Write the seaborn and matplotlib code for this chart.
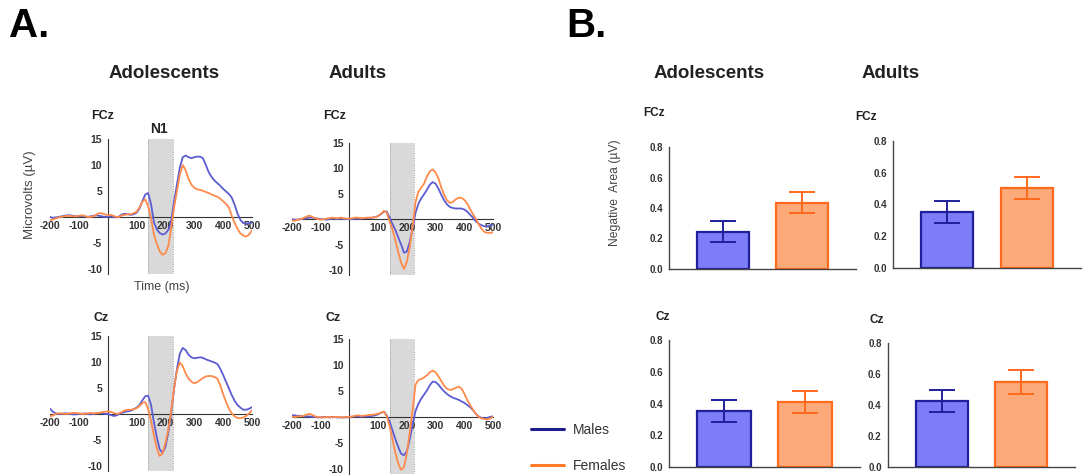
import numpy as np
import pandas as pd
import matplotlib
matplotlib.use("Agg")
import matplotlib.pyplot as plt
from matplotlib.lines import Line2D
import seaborn as sns

sns.set_theme(style="white")
plt.rcParams['font.family'] = ['Liberation Sans', 'DejaVu Sans']
plt.rcParams['axes.unicode_minus'] = False

# ---------------- data ----------------
TIME = np.arange(-200, 510, 10)

ado_fcz_m = [0.0, -0.2, -0.1, 0.0, 0.1, 0.2, 0.3, 0.3, 0.2, 0.1,
             0.1, 0.2, 0.1, 0.0, 0.1, 0.2, 0.3, 0.2, 0.1, 0.0,
             0.0, 0.1, 0.0, -0.1, 0.1, 0.5, 0.6, 0.5, 0.4, 0.5,
             0.8, 1.6, 3.0, 4.3, 4.6, 2.5, -1.0, -2.4, -3.1, -3.4,
             -3.2, -2.5, -0.8, 3.0, 6.3, 9.5, 11.5, 11.8, 11.5, 11.3,
             11.5, 11.6, 11.6, 11.3, 10.0, 8.6, 7.7, 7.0, 6.5, 6.0,
             5.4, 4.9, 4.4, 3.7, 2.3, 0.6, -0.6, -1.2, -1.3, -1.2,
             -1.1]
ado_fcz_f = [-0.6, -0.5, -0.3, -0.1, 0.0, 0.1, 0.2, 0.2, 0.1, 0.1,
             0.2, 0.3, 0.2, 0.0, 0.0, 0.1, 0.4, 0.7, 0.7, 0.5,
             0.3, 0.4, 0.2, 0.0, 0.0, 0.3, 0.4, 0.5, 0.5, 0.7,
             1.0, 1.8, 2.9, 3.4, 2.0, -0.2, -3.4, -5.2, -6.6, -7.3,
             -7.0, -5.6, -2.2, 1.8, 5.0, 8.2, 10.0, 9.0, 7.3, 6.2,
             5.6, 5.3, 5.2, 5.0, 4.8, 4.6, 4.3, 4.1, 3.9, 3.5,
             3.0, 2.5, 1.8, 0.2, -1.2, -2.3, -3.2, -3.6, -3.8, -3.4,
             -2.6]
adu_fcz_m = [0.0, -0.1, -0.1, 0.0, 0.1, 0.2, 0.3, 0.3, 0.2, 0.1,
             0.0, 0.0, -0.1, 0.0, 0.1, 0.1, 0.0, 0.1, 0.0, 0.0,
             0.0, 0.0, 0.1, 0.1, 0.1, 0.2, 0.2, 0.2, 0.3, 0.4,
             0.6, 1.0, 1.5, 1.5, 0.3, -1.0, -2.1, -3.6, -5.0, -6.6,
             -6.4, -4.5, -1.8, 1.2, 3.0, 4.1, 4.9, 5.8, 6.8, 7.3,
             7.0, 6.0, 4.8, 3.7, 2.9, 2.4, 2.2, 2.1, 2.1, 2.1,
             1.9, 1.5, 0.9, 0.3, -0.4, -0.9, -1.2, -1.4, -1.4, -1.2,
             -1.1]
adu_fcz_f = [-0.3, -0.3, -0.1, 0.0, 0.2, 0.5, 0.7, 0.5, 0.2, 0.0,
             -0.1, 0.0, 0.1, 0.2, 0.3, 0.2, 0.2, 0.3, 0.2, 0.1,
             0.1, 0.2, 0.3, 0.3, 0.2, 0.2, 0.3, 0.3, 0.3, 0.4,
             0.6, 1.1, 1.6, 1.3, -0.5, -2.0, -4.2, -6.5, -8.6, -9.8,
             -8.4, -5.5, -1.5, 3.3, 5.4, 6.2, 7.0, 8.4, 9.4, 9.8,
             9.2, 8.0, 6.2, 4.8, 3.7, 3.2, 3.4, 3.9, 4.2, 4.2,
             3.8, 3.1, 2.0, 1.0, 0.1, -1.0, -1.9, -2.5, -2.7, -2.7,
             -2.6]
ado_cz_m = [1.0, 0.4, 0.1, 0.0, 0.0, 0.1, 0.1, 0.0, -0.1, -0.1,
            0.0, 0.0, 0.1, 0.0, -0.1, 0.0, 0.1, 0.2, 0.1, 0.0,
            0.0, -0.2, -0.4, -0.3, 0.0, 0.2, 0.4, 0.5, 0.6, 0.9,
            1.2, 1.7, 2.6, 3.4, 3.5, 1.8, -1.6, -4.5, -6.8, -7.5,
            -6.4, -3.5, 0.2, 4.8, 8.7, 11.6, 12.7, 12.3, 11.4, 10.9,
            10.7, 10.8, 10.9, 10.8, 10.5, 10.3, 10.1, 9.9, 9.6, 8.7,
            7.5, 6.2, 4.9, 3.6, 2.5, 1.7, 1.2, 0.8, 0.8, 1.0,
            1.3]
ado_cz_f = [-0.5, -0.3, 0.0, 0.1, 0.1, 0.0, 0.0, 0.1, 0.2, 0.2,
            0.1, 0.0, 0.0, 0.1, 0.2, 0.1, 0.1, 0.2, 0.3, 0.4,
            0.5, 0.4, 0.2, 0.0, 0.1, 0.4, 0.7, 0.8, 0.8, 0.9,
            1.1, 1.5, 2.1, 2.3, 0.9, -1.3, -4.1, -6.6, -8.1, -7.6,
            -5.6, -3.0, 0.6, 5.0, 8.3, 9.9, 9.2, 7.8, 6.8, 6.2,
            5.9, 6.1, 6.5, 6.9, 7.2, 7.3, 7.3, 7.1, 6.8, 5.5,
            3.8, 2.3, 1.0, 0.1, -0.5, -0.8, -0.8, -0.7, -0.4, 0.1,
            0.7]
adu_cz_m = [0.3, 0.3, 0.2, 0.2, 0.1, 0.1, 0.1, 0.0, 0.0, -0.1,
            -0.1, 0.0, 0.0, -0.1, 0.0, 0.0, -0.1, -0.1, -0.1, -0.1,
            0.0, 0.0, 0.1, 0.1, 0.0, 0.1, 0.1, 0.1, 0.2, 0.3,
            0.5, 0.8, 1.0, 0.3, -0.9, -2.6, -4.3, -5.8, -7.1, -7.4,
            -6.6, -4.3, -1.5, 1.1, 2.5, 3.5, 4.3, 5.1, 6.1, 6.8,
            6.7, 6.2, 5.5, 4.9, 4.4, 4.0, 3.7, 3.5, 3.3, 3.0,
            2.7, 2.3, 1.9, 1.3, 0.6, 0.1, -0.2, -0.3, -0.2, 0.0,
            0.1]
adu_cz_f = [0.0, 0.0, 0.1, 0.1, 0.2, 0.4, 0.6, 0.4, 0.1, 0.0,
            -0.1, -0.1, 0.0, 0.0, -0.1, 0.0, 0.0, -0.1, -0.1, 0.0,
            0.0, 0.1, 0.2, 0.3, 0.2, 0.2, 0.3, 0.4, 0.4, 0.5,
            0.6, 0.8, 1.0, 0.1, -1.8, -4.4, -6.9, -9.0, -10.2, -9.7,
            -7.0, -3.0, 1.3, 6.2, 7.1, 7.3, 7.6, 8.0, 8.6, 8.9,
            8.6, 7.8, 6.9, 6.0, 5.4, 5.2, 5.3, 5.6, 5.8, 5.5,
            4.5, 3.3, 2.3, 1.4, 0.6, 0.0, -0.3, -0.4, -0.5, -0.3,
            0.0]

N1_WINDOW = (140, 225)
ERP_XTICKS = [-200, -100, 100, 200, 300, 400, 500]
ERP_YTICKS = [-10, -5, 5, 10, 15]

GROUPS = ["Males", "Females"]
bar_ado_fcz = [0.245, 0.435]
sem_ado_fcz = [0.07, 0.07]
bar_adu_fcz = [0.355, 0.505]
sem_adu_fcz = [0.07, 0.07]
bar_ado_cz = [0.355, 0.41]
sem_ado_cz = [0.07, 0.07]
bar_adu_cz = [0.425, 0.548]
sem_adu_cz = [0.07, 0.08]
BAR_YTICKS = [0.0, 0.2, 0.4, 0.6, 0.8]

# ---------------- style ----------------
LINE_BLUE = "#5c5cd2"
LINE_ORANGE = "#ff8a4a"
FILL = ["#7d7df7", "#fcaa7a"]
EDGE = ["#20209a", "#ff6a1c"]
LEG = ["#1c1c8e", "#ff7a2a"]
TXT = "#222222"
TICK = "#333333"

W, H = 1084, 475
fig = plt.figure(figsize=(W / 100, H / 100), dpi=100)
fig.patch.set_facecolor("white")


def box(l, r, t, b):
    return [l / W, 1 - b / H, (r - l) / W, (b - t) / H]


def ftext(x, y, s, **kw):
    fig.text(x / W, 1 - y / H, s, ha="center", va="center", **kw)


def erp_panel(rect, males, females):
    ax = fig.add_axes(rect)
    ax.set_facecolor("none")
    ax.axvspan(N1_WINDOW[0], N1_WINDOW[1], color="#d9d9d9", lw=0, zorder=0)
    for xv in N1_WINDOW:
        ax.axvline(xv, color="#9a9a9a", lw=0.7, ls=(0, (1, 1.5)), zorder=0.5)
    df = pd.DataFrame({"t": np.concatenate([TIME, TIME]),
                       "v": np.concatenate([males, females]),
                       "g": ["Males"] * len(TIME) + ["Females"] * len(TIME)})
    sns.lineplot(data=df, x="t", y="v", hue="g", hue_order=GROUPS,
                 palette=[LINE_BLUE, LINE_ORANGE], lw=1.3, legend=False,
                 ax=ax, zorder=3)
    ax.set_xlim(-200, 500)
    ax.set_ylim(-11, 15)
    ax.spines["left"].set_position(("data", 0))
    ax.spines["bottom"].set_position(("data", 0))
    ax.spines["top"].set_visible(False)
    ax.spines["right"].set_visible(False)
    for s in ("left", "bottom"):
        ax.spines[s].set_color("#333333")
        ax.spines[s].set_linewidth(0.8)
        ax.spines[s].set_zorder(2)
    ax.set_xticks(ERP_XTICKS)
    ax.set_yticks(ERP_YTICKS)
    ax.tick_params(axis="both", labelsize=7.5, length=2.5, width=0.8,
                   colors=TICK, pad=1.5, direction="out")
    ax.tick_params(axis="x", length=0, pad=3)
    for lbl in ax.get_xticklabels() + ax.get_yticklabels():
        lbl.set_fontweight("bold")
    ax.set_xlabel("")
    ax.set_ylabel("")
    return ax


def bar_panel(rect, vals, sems):
    ax = fig.add_axes(rect)
    ax.set_facecolor("none")
    df = pd.DataFrame({"g": GROUPS, "v": vals})
    sns.barplot(data=df, x="g", y="v", hue="g", order=GROUPS,
                hue_order=GROUPS, palette=FILL, width=0.66, saturation=1,
                legend=False, ax=ax, zorder=2)
    for patch, ec in zip(ax.patches, EDGE):
        patch.set_edgecolor(ec)
        patch.set_linewidth(1.6)
    for i, (v, e) in enumerate(zip(vals, sems)):
        ax.errorbar([i], [v], yerr=[e], fmt="none", ecolor=EDGE[i],
                    elinewidth=1.4, capsize=9.5, capthick=1.4, zorder=4)
    ax.set_xlim(-0.68, 1.68)
    ax.set_ylim(0, 0.8)
    ax.set_yticks(BAR_YTICKS)
    ax.set_yticklabels([f"{t:.1f}" for t in BAR_YTICKS])
    ax.set_xticks([0, 1])
    ax.set_xticklabels(["", ""])
    ax.spines["top"].set_visible(False)
    ax.spines["right"].set_visible(False)
    for s in ("left", "bottom"):
        ax.spines[s].set_color("#444444")
        ax.spines[s].set_linewidth(1.0)
    ax.tick_params(axis="both", labelsize=7, length=3, width=0.9,
                   colors=TICK, pad=1.5, direction="out")
    for lbl in ax.get_yticklabels():
        lbl.set_fontweight("bold")
    ax.set_xlabel("")
    ax.set_ylabel("")
    return ax


# ---------------- panel A ----------------
erp_panel(box(50, 252, 139, 274), ado_fcz_m, ado_fcz_f)
erp_panel(box(292, 493, 143, 275), adu_fcz_m, adu_fcz_f)
erp_panel(box(50, 252, 336, 471), ado_cz_m, ado_cz_f)
erp_panel(box(292, 493, 339, 474), adu_cz_m, adu_cz_f)

# ---------------- panel B ----------------
bar_panel(box(669, 856, 147, 269), bar_ado_fcz, sem_ado_fcz)
bar_panel(box(893, 1081, 141, 268), bar_adu_fcz, sem_adu_fcz)
bar_panel(box(669, 860, 340, 467), bar_ado_cz, sem_ado_cz)
bar_panel(box(888, 1075, 343, 467), bar_adu_cz, sem_adu_cz)

# ---------------- texts ----------------
ftext(29, 26, "A.", fontsize=29, fontweight="bold", color="black")
ftext(586, 26, "B.", fontsize=29, fontweight="bold", color="black")
ftext(164, 73, "Adolescents", fontsize=13.5, fontweight="bold", color=TXT)
ftext(358, 73, "Adults", fontsize=13.5, fontweight="bold", color=TXT)
ftext(709, 73, "Adolescents", fontsize=13.5, fontweight="bold", color=TXT)
ftext(891, 73, "Adults", fontsize=13.5, fontweight="bold", color=TXT)

ftext(103, 116, "FCz", fontsize=9, fontweight="bold", color=TXT)
ftext(335, 116, "FCz", fontsize=9, fontweight="bold", color=TXT)
ftext(101, 318, "Cz", fontsize=9, fontweight="bold", color=TXT)
ftext(333, 318, "Cz", fontsize=9, fontweight="bold", color=TXT)
ftext(159, 129, "N1", fontsize=10, fontweight="bold", color=TXT)
ftext(162, 287, "Time (ms)", fontsize=9, color="#444444")
ftext(30, 195, "Microvolts (\u00b5V)", fontsize=9.5, color="#444444",
      rotation=90)

ftext(654, 113, "FCz", fontsize=8.5, fontweight="bold", color=TXT)
ftext(866, 117, "FCz", fontsize=8.5, fontweight="bold", color=TXT)
ftext(663, 317, "Cz", fontsize=8.5, fontweight="bold", color=TXT)
ftext(877, 320, "Cz", fontsize=8.5, fontweight="bold", color=TXT)
ftext(615, 193, "Negative  Area (\u00b5V)", fontsize=8.7, color="#444444",
      rotation=90)

handles = [Line2D([], [], color=LEG[0], lw=2.2),
           Line2D([], [], color=LEG[1], lw=2.2)]
fig.legend(handles, GROUPS, loc="upper left",
           bbox_to_anchor=(531 / W, 1 - 423 / H), frameon=False,
           fontsize=10, handlelength=2.4, handletextpad=0.6,
           labelspacing=1.6, borderpad=0, borderaxespad=0,
           labelcolor="#333333")

fig.savefig("out.png", dpi=100, facecolor="white")
